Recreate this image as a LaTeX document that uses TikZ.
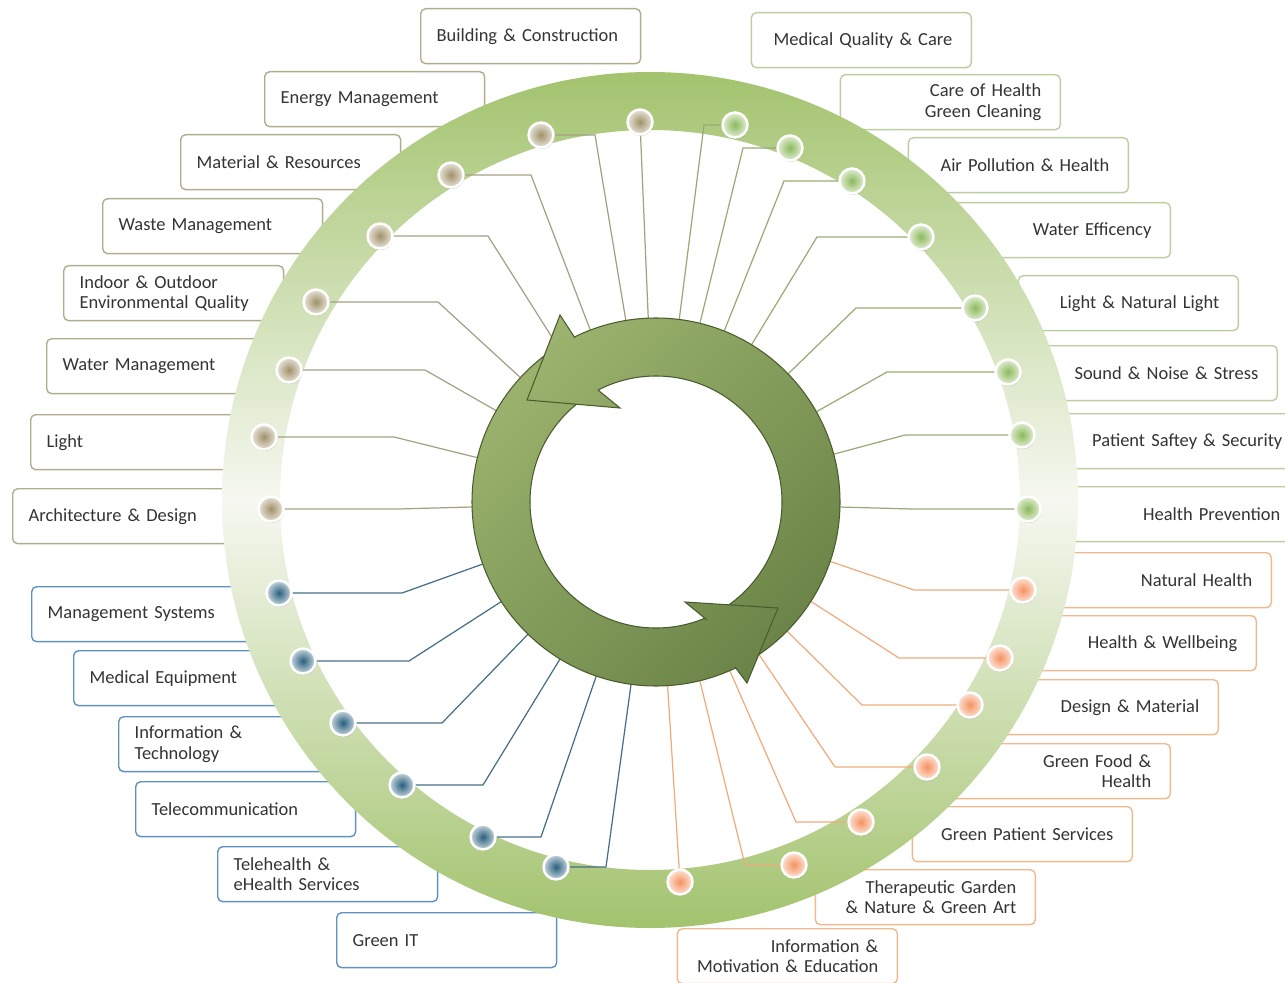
\documentclass[tikz,border=0pt]{standalone}
\usepackage{fontspec}
\setmainfont{Carlito}
\usetikzlibrary{calc,shadows}

\definecolor{txt}{RGB}{52,52,52}
\definecolor{bxbrown}{RGB}{178,172,143}
\definecolor{lnbrown}{RGB}{165,160,132}
\definecolor{dtbrown}{RGB}{160,145,105}
\definecolor{bxgreen}{RGB}{188,206,160}
\definecolor{lngreen}{RGB}{150,172,118}
\definecolor{dtgreen}{RGB}{140,185,90}
\definecolor{bxblue}{RGB}{95,145,195}
\definecolor{lnblue}{RGB}{70,110,135}
\definecolor{dtblue}{RGB}{40,95,125}
\definecolor{bxorange}{RGB}{240,185,140}
\definecolor{lnorange}{RGB}{238,172,125}
\definecolor{dtorange}{RGB}{245,145,95}
\definecolor{band}{RGB}{163,195,110}
\definecolor{bandmid}{RGB}{246,248,241}
\definecolor{arlight}{RGB}{158,182,112}
\definecolor{ardark}{RGB}{104,128,68}
\definecolor{arline}{RGB}{72,92,46}

% index / dot x / dot y / elbow x / group
\def\spokelist{1/640/122/640/brown, 2/541/135/595/brown, 3/451/175/531/brown,
  4/380/236/488/brown, 5/316/302/438/brown, 6/289/370/425/brown,
  7/264/437/394/brown, 8/271/509/398/brown,
  9/279/593/402/blue, 10/303/661/409/blue, 11/343/723/442/blue,
  12/402/785/483/blue, 13/483/837/541/blue, 14/556/867/606/blue,
  15/680/882/680/orange, 16/794/865/745/orange, 17/861/822/796/orange,
  18/927/767/835/orange, 19/970/705/862/orange, 20/1000/658/899/orange,
  21/1023/590/914/orange,
  22/1028/509/912/green, 23/1022/435/905/green, 24/1008/372/887/green,
  25/975/308/856/green, 26/921/237/817/green, 27/852/181/784/green,
  28/790/148/743/green, 29/735/125/704/green}

\tikzset{
  tag/.style={draw, fill=white, rounded corners=0.1cm, line width=0.8pt,
    minimum height=1.1cm, font=\fontsize{10.5}{11.5}\selectfont, text=txt},
  tagL/.style={tag, anchor=north west, inner xsep=0.32cm, text width=3.76cm, align=left},
  tagR/.style={tag, anchor=north east, inner xsep=0.38cm, text width=3.64cm, align=right},
  conn/.style={line width=0.7pt},
  ball/.style={circle, minimum size=0.5cm, inner sep=0pt, draw=white, line width=1.4pt,
    drop shadow={shadow xshift=0.4pt, shadow yshift=-0.9pt, opacity=0.35}},
  arshade/.style={top color=arlight, bottom color=ardark, shading angle=45}
}

\begin{document}
\begin{tikzpicture}[x=0.02cm, y=-0.02cm]
    \useasboundingbox (0,0) rectangle (1285,983);
    \clip (0,0) rectangle (1285,983);
    \coordinate (bc) at (650,500);
    \coordinate (ac) at (656,502);

    % Topic boxes, left half
    \node[tagL, draw=bxbrown] (t1) at (420,8) {Building \& Construction};
    \node[tagL, draw=bxbrown] (t2) at (264,71) {Energy Management};
    \node[tagL, draw=bxbrown] (t3) at (180,134) {Material \& Resources};
    \node[tagL, draw=bxbrown] (t4) at (102,198) {Waste Management};
    \node[tagL, draw=bxbrown] (t5) at (63,265) {Indoor \& Outdoor\\Environmental Quality};
    \node[tagL, draw=bxbrown] (t6) at (46,338) {Water Management};
    \node[tagL, draw=bxbrown] (t7) at (30,414) {Light};
    \node[tagL, draw=bxbrown] (t8) at (12,488) {Architecture \& Design};
    \node[tagL, draw=bxblue] (t9) at (31,586) {Management Systems};
    \node[tagL, draw=bxblue] (t10) at (73,650) {Medical Equipment};
    \node[tagL, draw=bxblue] (t11) at (118,716) {Information \&\\Technology};
    \node[tagL, draw=bxblue] (t12) at (135,781) {Telecommunication};
    \node[tagL, draw=bxblue] (t13) at (217,846) {Telehealth \&\\eHealth Services};
    \node[tagL, draw=bxblue] (t14) at (336,912) {Green IT};

    % Topic boxes, right half
    \node[tagR, draw=bxorange] (t15) at (898,928) {Information \&\\Motivation \& Education};
    \node[tagR, draw=bxorange] (t16) at (1036,869) {Therapeutic Garden\\\& Nature \& Green Art};
    \node[tagR, draw=bxorange] (t17) at (1133,806) {Green Patient Services};
    \node[tagR, draw=bxorange] (t18) at (1171,743) {Green Food \&\\Health};
    \node[tagR, draw=bxorange] (t19) at (1219,679) {Design \& Material};
    \node[tagR, draw=bxorange] (t20) at (1257,615) {Health \& Wellbeing};
    \node[tagR, draw=bxorange] (t21) at (1272,552) {Natural Health};
    \node[tagR, draw=bxgreen, text width=4.2cm] (t22) at (1300,486) {Health Prevention};
    \node[tagR, draw=bxgreen, text width=4.2cm] (t23) at (1302,413) {Patient Saftey \& Security};
    \node[tagR, draw=bxgreen, text width=4.2cm] (t24) at (1278,345) {Sound \& Noise \& Stress};
    \node[tagR, draw=bxgreen] (t25) at (1239,275) {Light \& Natural Light};
    \node[tagR, draw=bxgreen] (t26) at (1171,202) {Water Efficency};
    \node[tagR, draw=bxgreen] (t27) at (1129,137) {Air Pollution \& Health};
    \node[tagR, draw=bxgreen] (t28) at (1061,74) {Care of Health\\Green Cleaning};
    \node[tagR, draw=bxgreen] (t29) at (972,12) {Medical Quality \& Care};

    % Outer band
    \shade[even odd rule, top color=band, bottom color=band, middle color=bandmid]
        (bc) circle (428) (bc) circle (370);

    % Spokes
    \foreach \i/\dx/\dy/\ex/\grp in \spokelist {
        \coordinate (p\i) at (\dx,\dy);
        \coordinate (q\i) at (\ex,\dy);
        \draw[conn, draw=ln\grp] (p\i) -- (q\i) -- ($(ac)!3.5cm!(q\i)$);
    }

    % Circular arrows
    \begin{scope}[even odd rule]
        \clip (ac) circle (184) (ac) circle (126);
        \shade[arshade] ($(ac)+(-215,-215)$) rectangle ($(ac)+(215,215)$);
    \end{scope}
    \draw[arline, line width=0.6pt] (ac) circle (184) (ac) circle (126);
    \begin{scope}
        \clip (575,338) -- (560,315) -- (527,400) -- (620,408) -- (598,390) -- cycle;
        \shade[arshade] ($(ac)+(-215,-215)$) rectangle ($(ac)+(215,215)$);
    \end{scope}
    \draw[arline, line width=0.6pt] (575,338) -- (560,315) -- (527,400) -- (620,408) -- (598,390);
    \begin{scope}
        \clip (735,667) -- (747,683) -- (778,608) -- (685,602) -- (707,620) -- cycle;
        \shade[arshade] ($(ac)+(-215,-215)$) rectangle ($(ac)+(215,215)$);
    \end{scope}
    \draw[arline, line width=0.6pt] (735,667) -- (747,683) -- (778,608) -- (685,602) -- (707,620);

    % Dots on the band
    \foreach \i/\dx/\dy/\ex/\grp in \spokelist {
        \node[ball, inner color=dt\grp, outer color=dt\grp!25!white] (dot\i) at (p\i) {};
    }
\end{tikzpicture}
\end{document}
